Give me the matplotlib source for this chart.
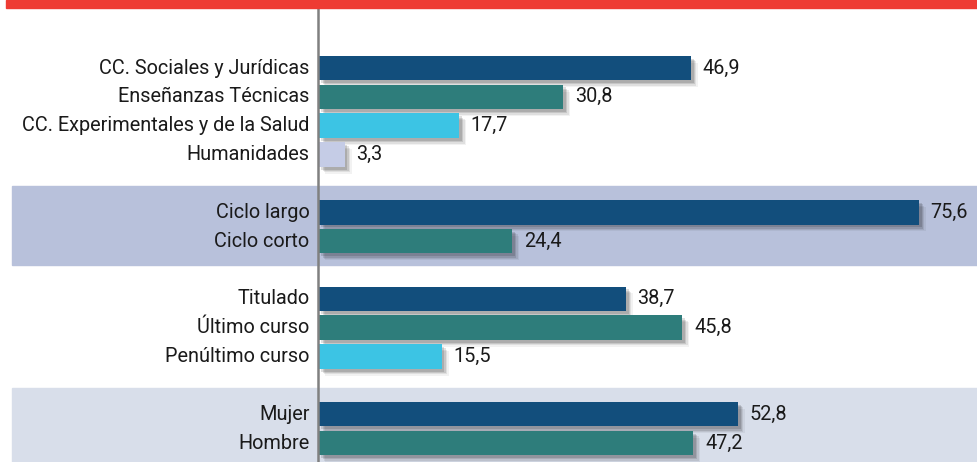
import matplotlib
matplotlib.use("Agg")
import matplotlib.pyplot as plt
import matplotlib.patheffects as pe
from matplotlib.patches import Rectangle
import matplotlib.transforms as mtransforms

# ---- data ----
labels_area = ["CC. Sociales y Jurídicas", "Enseñanzas Técnicas",
               "CC. Experimentales y de la Salud", "Humanidades"]
values_area = [46.9, 30.8, 17.7, 3.3]
labels_ciclo = ["Ciclo largo", "Ciclo corto"]
values_ciclo = [75.6, 24.4]
labels_curso = ["Titulado", "Último curso", "Penúltimo curso"]
values_curso = [38.7, 45.8, 15.5]
labels_sexo = ["Mujer", "Hombre"]
values_sexo = [52.8, 47.2]

colors = ["#124e7c", "#2e7d7b", "#3cc4e4", "#c5cce6"]
band_colors = [None, "#b8c1db", None, "#d8deea"]
groups = [(labels_area, values_area), (labels_ciclo, values_ciclo),
          (labels_curso, values_curso), (labels_sexo, values_sexo)]

FONT = ["Roboto", "Liberation Sans", "DejaVu Sans"]
plt.rcParams["font.family"] = FONT
FS = 14.3

fig = plt.figure(figsize=(9.78, 4.62), dpi=100)
fig.patch.set_facecolor("white")
ax = fig.add_axes([0, 0, 1, 1])
ax.axis("off")

W, H = 978, 462
x0_px, scale = 318.5, 7.94
ax.set_xlim(-x0_px / scale, (W - x0_px) / scale)
row0_px, pitch = 68, 28.85
ax.set_ylim((H - row0_px) / pitch, -row0_px / pitch)

# red band at top
fig.patches.append(Rectangle((6 / W, 1 - 8 / H), 1 - 6 / W, 8 / H,
                             transform=fig.transFigure, color="#ee3b33", zorder=0))

trans = mtransforms.blended_transform_factory(ax.transAxes, ax.transData)
shadow = [pe.SimplePatchShadow(offset=(d, -d), shadow_rgbFace="black", alpha=a)
          for d, a in [(5.0, 0.05), (4.0, 0.08), (3.0, 0.11), (2.0, 0.13)]] + [pe.Normal()]

pos = 0
for gi, (labs, vals) in enumerate(groups):
    start = pos
    for k, (lab, v) in enumerate(zip(labs, vals)):
        b = ax.barh(pos, v, height=0.85, color=colors[k], zorder=3)
        b[0].set_path_effects(shadow)
        ax.annotate(lab, (0, pos), xytext=(-6.5, 0), textcoords="offset points",
                    ha="right", va="center", fontsize=FS, color="#1a1a1a", zorder=4)
        ax.annotate(f"{v:.1f}".replace(".", ","), (v, pos), xytext=(8.5, 0),
                    textcoords="offset points", ha="left", va="center",
                    fontsize=FS, color="#1a1a1a", zorder=4)
        pos += 1
    end = pos - 1
    if band_colors[gi]:
        top = start - 0.91
        bot = end + 0.83 if gi < 3 else end + 1.0
        ax.add_patch(Rectangle((12 / W, top), 1 - 12 / W, bot - top, transform=trans,
                               color=band_colors[gi], zorder=0, clip_on=False))
    pos += 1

ax.axvline(-1.0 / scale, ymin=0, ymax=1 - 7 / H, color="#808080", lw=1.8, zorder=5)

fig.savefig("out.png", dpi=100, facecolor="white")
